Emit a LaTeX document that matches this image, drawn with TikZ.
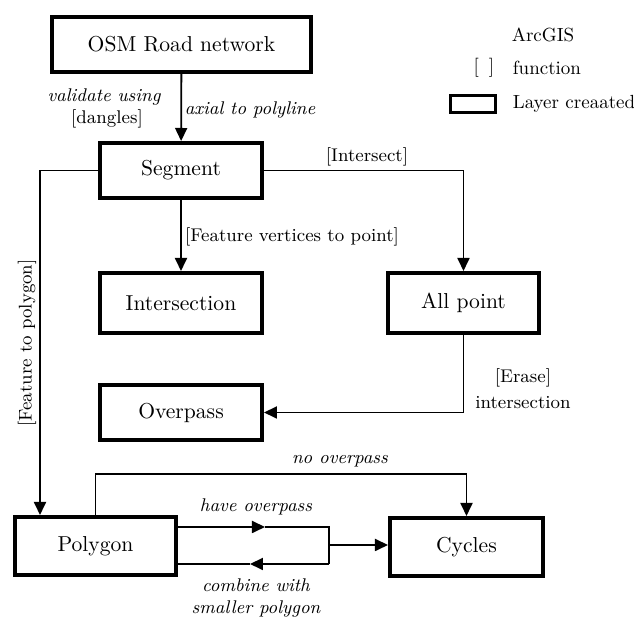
\documentclass[tikz,border=0pt]{standalone}
\usepackage{amsmath}
\usepackage{tikz}
\usetikzlibrary{arrows.meta,calc}

\begin{document}
\begin{tikzpicture}[x=0.5pt,y=-0.5pt,
   layer/.style={draw=black,line width=2pt,minimum height=28pt,inner sep=0pt,font=\fontsize{10.8}{12}\selectfont},
   lbl/.style={font=\fontsize{9.2}{10.5}\selectfont,inner sep=0pt},
   ilbl/.style={lbl,font=\fontsize{9.2}{10.5}\selectfont\itshape},
   arr/.style={-{Triangle[length=6.5pt,width=6pt]}},
   every path/.style={line width=0.9pt}]
   \useasboundingbox (0,0) rectangle (634,619);
   % layers
   \node[layer,minimum width=129.5pt,minimum height=27.5pt] (osm) at (181.5,44.5) {OSM Road network};
   \node[layer,minimum width=81pt,minimum height=27.5pt] (segment) at (181,170.5) {Segment};
   \node[layer,minimum width=81pt,minimum height=30pt] (intersection) at (181,303) {Intersection};
   \node[layer,minimum width=75.5pt,minimum height=30pt] (allpoint) at (463.5,303) {All point};
   \node[layer,minimum width=81pt,minimum height=27.5pt] (overpass) at (181,412.5) {Overpass};
   \node[layer,minimum width=80.5pt,minimum height=29pt] (polygon) at (95.5,546) {Polygon};
   \node[layer,minimum width=76.5pt,minimum height=29pt] (cycles) at (466.5,547) {Cycles};
   % legend
   \node[lbl,font=\fontsize{9.5}{11}\selectfont] (arcgis) at (543,35) {ArcGIS};
   \node[lbl,font=\fontsize{9.5}{11}\selectfont] (brk) at (484,68) {[\hspace{5pt}]};
   \node[lbl,font=\fontsize{9.5}{11}\selectfont,anchor=west] (func) at (512,68) {function};
   \node[draw=black,line width=1.5pt,minimum width=22.5pt,minimum height=8.5pt,inner sep=0pt] (legbox) at (473,104) {};
   \node[lbl,font=\fontsize{9.5}{11}\selectfont,anchor=west] (layertxt) at (512,104) {Layer creaated};
   % connectors
   \draw[arr] (osm) -- (segment);
   \draw[arr] (segment) -- (intersection);
   \draw[arr] (segment.east) -| (allpoint.north);
   \draw[arr] (allpoint.south) |- (overpass.east);
   \draw[arr] (segment.west) -| ($(polygon.north west)+(27,0)$);
   \draw[arr] (polygon.north) -- ++(0,-41) -| (cycles.north);
   \coordinate (jtop) at (329,527);
   \coordinate (jbot) at (329,564);
   \coordinate (jmid) at (329,545);
   \coordinate (htop) at (265,527);
   \coordinate (hbot) at (250,564);
   \draw[arr] (polygon.east |- jtop) -- (htop);
   \draw (htop) -- (jtop) -- (jbot);
   \draw[arr] (jbot) -- (hbot);
   \draw (hbot) -- (polygon.east |- jbot);
   \draw[arr] (jmid) -- (jmid -| cycles.west);
   % labels
   \node[ilbl] (validate) at (104,97) {validate using};
   \node[lbl] (dangles) at (107,119) {[dangles]};
   \node[ilbl] (axial) at (250,110) {axial to polyline};
   \node[lbl] (intersect) at (367,157) {[Intersect]};
   \node[lbl] (fvtp) at (292,237) {[Feature vertices to point]};
   \node[lbl] (erase) at (523,378) {[Erase]};
   \node[lbl] (erasesub) at (523,403) {intersection};
   \node[lbl,rotate=90] (ftp) at (27,343) {[Feature to polygon]};
   \node[ilbl] (noover) at (340,461) {no overpass};
   \node[ilbl] (haveover) at (256,507) {have overpass};
   \node[ilbl] (combine) at (256,585) {combine with};
   \node[ilbl] (smaller) at (256,609) {smaller polygon};
\end{tikzpicture}
\end{document}
